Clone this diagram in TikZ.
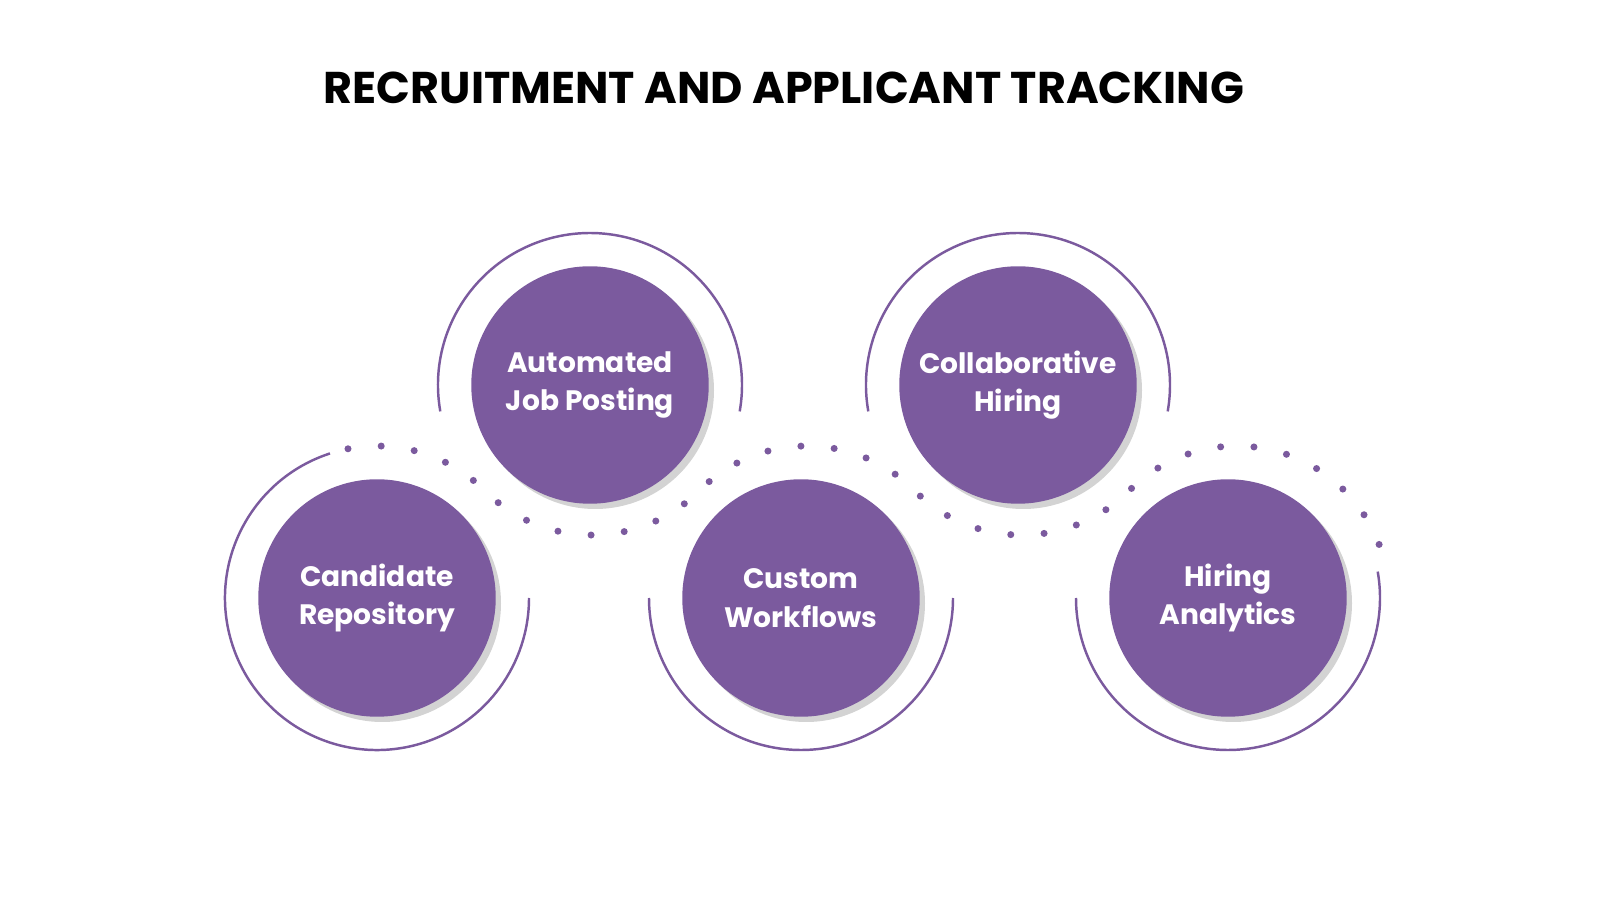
\documentclass[tikz,border=0pt]{standalone}
\usepackage{fontspec}
\setmainfont{Poppins}
\usetikzlibrary{shadows}
\definecolor{plum}{HTML}{7B5A9E}
\tikzset{
  bubble/.style={circle, fill=plum, minimum size=4.75cm, inner sep=0pt, align=center,
    text=white, font=\fontsize{16}{22}\selectfont\bfseries,
    drop shadow={opacity=0.35, shadow xshift=3pt, shadow yshift=-3pt}},
  ring/.style={plum, line width=1.4pt},
  dots/.style={plum, line width=4pt, line cap=round, dash pattern=on 0pt off 19pt}
}
\begin{document}
\begin{tikzpicture}[x=0.02cm, y=0.02cm]
    \node[font=\fontsize{25.3}{30}\selectfont\bfseries] (title) at (784,812) {RECRUITMENT AND APPLICANT TRACKING};

    % outer rings
    \coordinate (c1) at (377,302);
    \coordinate (c2) at (590,515);
    \coordinate (c3) at (801,302);
    \coordinate (c4) at (1018,515);
    \coordinate (c5) at (1228,302);
    \draw[ring] (c1) ++(108:152) arc(108:360:152);
    \draw[ring] (c2) ++(190:152) arc(190:-10:152);
    \draw[ring] (c3) ++(180:152) arc(180:360:152);
    \draw[ring] (c4) ++(190:152) arc(190:-10:152);
    \draw[ring] (c5) ++(180:152) arc(180:370:152);

    % dotted trail
    \draw[dots] (c1) ++(101:152) arc(101:45:152) arc(225:315:152) arc(135:45:152)
        arc(225:315:152) arc(135:15:152);

    % bubbles
    \node[bubble] (repo) at (c1) {Candidate\\Repository};
    \node[bubble] (post) at (c2) {Automated\\Job Posting};
    \node[bubble] (flow) at (c3) {Custom\\Workflows};
    \node[bubble] (collab) at (c4) {Collaborative\\Hiring};
    \node[bubble] (stats) at (c5) {Hiring\\Analytics};

    \pgfresetboundingbox
    \useasboundingbox (0,0) rectangle (1600,900);
\end{tikzpicture}
\end{document}
